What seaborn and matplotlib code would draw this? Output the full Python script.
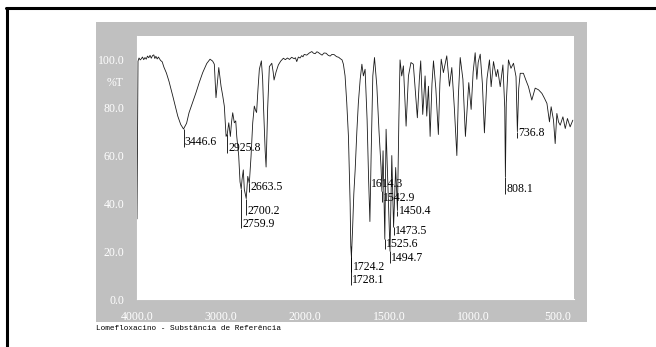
import matplotlib
matplotlib.use('Agg')
import matplotlib.pyplot as plt
import numpy as np
import pandas as pd
import seaborn as sns
from matplotlib.lines import Line2D
from matplotlib.patches import Rectangle

sns.set_style('white')

# IR spectrum (cm-1, %T)
wavenumber = [
    4000, 3988, 3976, 3962, 3950, 3935, 3920, 3905, 3890, 3875, 3860, 3845,
    3830, 3815, 3800, 3788, 3775, 3760, 3745, 3720, 3700, 3680, 3650, 3619,
    3575, 3515, 3480, 3446.6, 3410, 3381, 3340, 3298, 3260, 3218, 3170, 3131,
    3100, 3080, 3060, 3040, 3027, 3000, 2980, 2961, 2940, 2925.8, 2908, 2889,
    2875, 2861, 2842, 2825, 2813, 2790, 2774, 2759.9, 2750, 2735, 2723, 2700.2,
    2682, 2663.5, 2643, 2623, 2604, 2590, 2577, 2560, 2544, 2520, 2505, 2494,
    2475, 2464, 2445, 2425, 2396, 2380, 2369, 2345, 2318, 2290, 2258, 2235,
    2210, 2185, 2160, 2130, 2115, 2099, 2080, 2060, 2040, 2025, 2010, 1990,
    1975, 1960, 1950, 1940, 1930, 1923, 1910, 1899, 1887, 1875, 1862, 1851,
    1840, 1827, 1815, 1810, 1800, 1792, 1780, 1772, 1762, 1752, 1742, 1732,
    1728.1, 1724.2, 1717, 1710, 1702, 1692, 1683, 1672, 1662, 1653, 1643, 1631,
    1622, 1614.3, 1607, 1597, 1587, 1573, 1560, 1548, 1542.9, 1536, 1525.6, 1518,
    1506, 1494.7, 1484, 1473.5, 1461, 1450.4, 1442, 1435, 1425, 1415, 1399, 1385,
    1370, 1356, 1345, 1332, 1320, 1312, 1300, 1286, 1276, 1266, 1256, 1245,
    1236, 1222, 1207, 1198, 1190, 1177, 1157, 1141, 1127, 1112, 1097, 1088,
    1077, 1061, 1046, 1026, 1012, 1000, 988, 978, 970, 958, 945, 933,
    918, 903, 893, 879, 863, 854, 839, 823, 812, 808.1, 803, 790,
    775, 760, 745, 736.8, 729, 720, 701, 686, 671, 651, 631, 611,
    591, 576, 561, 546, 536, 522, 512, 502, 492, 482, 466, 452,
    439, 423, 407,
]
transmittance = [
    33.5, 99.5, 100.8, 100.0, 100.4, 101.2, 100.1, 101.0, 100.3, 101.6, 100.9, 101.9,
    100.7, 101.8, 102.1, 100.6, 101.5, 100.4, 101.2, 99.8, 99.2, 97.0, 94.5, 91.0,
    85.0, 76.5, 73.0, 71.1, 73.5, 77.9, 82.0, 86.3, 90.5, 94.7, 98.5, 100.3,
    99.5, 98.2, 84.2, 92.0, 96.8, 89.0, 85.0, 80.7, 68.0, 69.0, 73.7, 68.0,
    74.0, 77.9, 73.7, 74.5, 68.0, 60.0, 49.0, 46.0, 50.0, 54.0, 45.8, 42.0,
    51.3, 48.4, 59.7, 73.7, 80.7, 79.0, 78.0, 88.0, 96.1, 99.6, 92.0, 80.0,
    62.0, 55.2, 80.0, 97.2, 98.6, 95.0, 91.6, 95.0, 97.9, 99.5, 100.7, 100.1,
    100.8, 100.2, 101.1, 100.5, 100.9, 99.3, 101.2, 100.8, 101.8, 101.3, 102.3, 102.0,
    102.9, 103.5, 102.8, 102.6, 103.4, 103.2, 102.5, 102.0, 102.9, 102.8, 101.9, 101.6,
    102.3, 102.2, 101.5, 101.3, 101.1, 100.6, 100.0, 98.2, 93.3, 82.0, 68.0, 40.0,
    22.0, 17.5, 30.0, 44.0, 54.0, 70.0, 82.0, 92.0, 98.2, 93.3, 96.1, 75.0,
    50.0, 32.4, 60.0, 93.3, 101.0, 89.0, 70.0, 55.0, 45.0, 62.0, 25.0, 71.0,
    45.0, 20.0, 60.0, 30.0, 55.0, 37.0, 75.0, 100.0, 93.3, 97.5, 72.3, 93.3,
    98.9, 98.2, 88.0, 75.8, 92.0, 99.6, 77.2, 93.3, 76.5, 89.0, 68.0, 90.0,
    99.6, 88.0, 68.8, 90.0, 100.3, 94.7, 101.7, 89.0, 96.8, 80.0, 60.0, 85.0,
    101.0, 91.9, 68.0, 90.5, 79.3, 95.0, 103.0, 91.9, 99.0, 102.4, 90.0, 69.5,
    92.0, 100.0, 88.8, 99.3, 93.0, 96.0, 88.8, 97.9, 80.0, 51.0, 82.0, 100.0,
    96.5, 98.6, 93.0, 70.0, 88.0, 94.4, 94.4, 91.5, 88.8, 83.2, 88.2, 87.5,
    86.0, 84.0, 81.8, 74.1, 80.4, 74.8, 65.0, 77.6, 74.0, 72.7, 76.2, 71.3,
    75.5, 72.0, 74.8,
]

# labelled peaks: position, tip of the band, height of the label
peak_wn = [3446.6, 2925.8, 2663.5, 2700.2, 2759.9, 1724.2, 1728.1, 1614.3,
           1542.9, 1450.4, 1473.5, 1525.6, 1494.7, 808.1, 736.8]
peak_T = [71.1, 69.0, 48.4, 42.0, 46.0, 17.5, 22.0, 32.4,
          45.0, 37.0, 30.0, 25.0, 20.0, 51.0, 70.0]
label_T = [65.5, 63.2, 46.8, 37.0, 31.5, 13.4, 8.0, 48.3,
           42.4, 36.6, 28.6, 23.1, 17.2, 45.8, 69.3]

x_ticks = [4000, 3000, 2000, 1500, 1000, 500]
x_labels = ['4000.0', '3000.0', '2000.0', '1500.0', '1000.0', '500.0']
y_ticks = [0, 20, 40, 60, 80, 100]
y_labels = ['0.0', '20.0', '40.0', '60.0', '80.0', '100.0']

caption = 'Lomefloxacino - Substância de Referência'


# scale is doubled below 2000 cm-1, like the instrument printout
def fwd(wn):
    wn = np.asarray(wn, dtype=float)
    return np.where(wn >= 2000, wn - 4000, 2 * (wn - 2000) - 2000)


def inv(u):
    u = np.asarray(u, dtype=float)
    return np.where(u >= -2000, u + 4000, (u + 2000) / 2 + 2000)


df = pd.DataFrame({'wavenumber': wavenumber, 'T': transmittance})

fig = plt.figure(figsize=(6.56, 3.47), dpi=100)
W, H = 656.0, 347.0

# grey panel behind the plot
fig.add_artist(Rectangle((96 / W, 1 - 322 / H), (587 - 96) / W, (322 - 22) / H,
                         transform=fig.transFigure, facecolor='#c0c0c0',
                         edgecolor='none', zorder=-1))
# frame lines of the printout
fig.add_artist(Line2D([6 / W, 1.0], [1 - 7.5 / H, 1 - 7.5 / H],
                      transform=fig.transFigure, color='black', lw=2.2))
fig.add_artist(Line2D([6.5 / W, 6.5 / W], [0, 1 - 7.5 / H],
                      transform=fig.transFigure, color='black', lw=2.2))

ax = fig.add_axes([137 / W, 1 - 299 / H, 437 / W, 263 / H])
ax.set_facecolor('white')

sns.lineplot(data=df, x='wavenumber', y='T', sort=False, estimator=None,
             color='#1a1a1a', linewidth=0.6, ax=ax, zorder=3)

ax.set_xscale('function', functions=(fwd, inv))
ax.set_xlim(4000, 400)
ax.set_ylim(0, 110)
ax.set_xlabel('')
ax.set_ylabel('')

# peak labels
serif = 'Liberation Serif'
lower = [min(p, l - 2) for p, l in zip(peak_T, label_T)]
ax.vlines(peak_wn, lower, peak_T, color='black', lw=0.6)
for wn, lt in zip(peak_wn, label_T):
    ax.annotate(f'{wn:.1f}', xy=(wn, lt), xytext=(0.8, 0), textcoords='offset points',
                ha='left', va='center', fontsize=8.5, fontfamily=serif, color='black')

ax.set_xticks(x_ticks, labels=x_labels)
x_minor = [t for t in list(range(3800, 2000, -200)) + list(range(1900, 399, -100))
           if t not in x_ticks]
ax.set_xticks(x_minor, minor=True)
ax.set_yticks(y_ticks, labels=y_labels)
y_minor = [t for t in range(4, 110, 4) if t not in y_ticks]
ax.set_yticks(y_minor, minor=True)

ax.tick_params(axis='both', which='both', direction='out', colors='white',
               labelcolor='white', labelsize=8.5)
ax.tick_params(axis='both', which='major', length=6, width=0.8)
ax.tick_params(axis='both', which='minor', length=3, width=0.8)
ax.tick_params(axis='x', which='major', pad=3)
ax.tick_params(axis='y', which='major', pad=3)
for lbl in ax.get_xticklabels() + ax.get_yticklabels():
    lbl.set_fontfamily(serif)

for side in ['top', 'right']:
    ax.spines[side].set_visible(False)
for side in ['left', 'bottom']:
    ax.spines[side].set_color('white')
    ax.spines[side].set_linewidth(0.8)

ax.text(-0.03, 90.3, '%T', transform=ax.get_yaxis_transform(), ha='right',
        va='center', fontsize=8.5, fontfamily=serif, color='white')

fig.text(96 / W, 1 - 328.5 / H, caption, ha='left', va='center',
         fontsize=5.6, fontfamily='Liberation Mono', color='black')

fig.savefig('out.png', dpi=100)
